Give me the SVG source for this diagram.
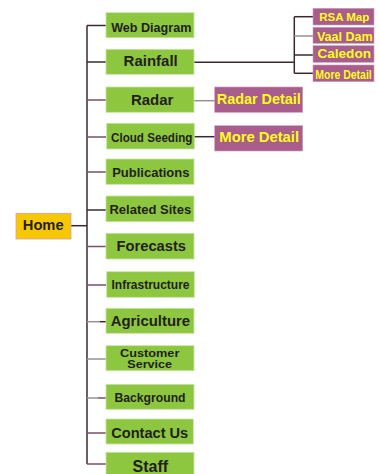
<svg xmlns="http://www.w3.org/2000/svg" width="379" height="474" viewBox="0 0 379 474">
<style>
.g{fill:#8dc63f;stroke:#c9e3a6;stroke-width:0.8}
.p{fill:#a85d8d;stroke:#c9a0bd;stroke-width:0.6}
.h{fill:#f7c800;stroke:#d9a0b0;stroke-width:0.8}
.t{font-family:"Liberation Sans",Arial,sans-serif;font-weight:bold;fill:#231f20;text-anchor:middle}
.y{font-family:"Liberation Sans",Arial,sans-serif;font-weight:bold;fill:#ffff1a;text-anchor:middle}
.c{fill:none;stroke:#3a2830;stroke-width:1.5}
.cp{fill:none;stroke:#7a4d68;stroke-width:1.5}
.cg{fill:none;stroke:#9a9090;stroke-width:1.5}
</style>
<rect width="379" height="474" fill="#ffffff"/>
<g id="connectors">
<path class="c" d="M87 25.5V464"/>
<path class="c" d="M71 225.7H87"/>
<path class="c" d="M87 25.5H106"/>
<path class="c" d="M87 62H106"/>
<path class="cp" d="M87 100H106"/>
<path class="cp" d="M87 137H106"/>
<path class="cp" d="M87 172H106"/>
<path class="c" d="M87 210H106"/>
<path class="cp" d="M87 246.5H106"/>
<path class="cp" d="M87 285H106"/>
<path class="cg" d="M87 321.7H100"/>
<path class="c" d="M100 321.7H106"/>
<path class="cg" d="M87 359H106"/>
<path class="cg" d="M87 398H98"/>
<path class="cp" d="M98 398H106"/>
<path class="cp" d="M87 433H106"/>
<path class="cp" d="M87 464H106"/>
<path class="c" d="M194 62.3H294.3"/>
<path class="c" d="M294.3 16.7V73.3"/>
<path class="c" d="M294.3 16.7H313"/>
<path class="cg" d="M294.3 36H313"/>
<path class="c" d="M294.3 55H313"/>
<path class="c" d="M294.3 73.3H313"/>
<path class="cg" d="M194 100.7H215"/>
<path class="c" d="M194 136.7H215"/>
</g>
<g id="home"><rect class="h" x="16" y="213.3" width="55" height="25.7"/><text class="t" x="43.2" y="230" font-size="14.7">Home</text></g>
<g id="web-diagram"><rect class="g" x="106" y="12.7" width="88" height="25"/><text class="t" x="151.3" y="31.7" font-size="12.6">Web Diagram</text></g>
<g id="rainfall"><rect class="g" x="106" y="49.3" width="88" height="25"/><text class="t" x="150.7" y="65.7" font-size="15">Rainfall</text></g>
<g id="radar"><rect class="g" x="106" y="87" width="88" height="25.3"/><text class="t" x="152.2" y="105" font-size="15">Radar</text></g>
<g id="cloud-seeding"><rect class="g" x="106.7" y="123.3" width="87.6" height="25.7"/><text class="t" x="151.7" y="142.3" font-size="13" textLength="81.3" lengthAdjust="spacingAndGlyphs" style="font-weight:600">Cloud Seeding</text></g>
<g id="publications"><rect class="g" x="106" y="159" width="88" height="25.3"/><text class="t" x="150.8" y="176.7" font-size="13">Publications</text></g>
<g id="related-sites"><rect class="g" x="106" y="196" width="88" height="25.7"/><text class="t" x="150.3" y="214.3" font-size="13">Related Sites</text></g>
<g id="forecasts"><rect class="g" x="106" y="233.3" width="88" height="25.7"/><text class="t" x="151.3" y="250.7" font-size="14.7">Forecasts</text></g>
<g id="infrastructure"><rect class="g" x="106.7" y="271.7" width="87.6" height="25.6"/><text class="t" x="150.5" y="289.3" font-size="12">Infrastructure</text></g>
<g id="agriculture"><rect class="g" x="106" y="308.3" width="88" height="25"/><text class="t" x="150.4" y="326" font-size="14.9">Agriculture</text></g>
<g id="customer-service"><rect class="g" x="106" y="345.7" width="88" height="25"/><text class="t" x="149.7" y="356.7" font-size="10.5" textLength="59.3" lengthAdjust="spacingAndGlyphs">Customer</text><text class="t" x="149.7" y="367.7" font-size="10.5" textLength="44.7" lengthAdjust="spacingAndGlyphs">Service</text></g>
<g id="background"><rect class="g" x="106" y="384.3" width="88" height="25"/><text class="t" x="150" y="402.3" font-size="12.2">Background</text></g>
<g id="contact-us"><rect class="g" x="106" y="419" width="87.3" height="25"/><text class="t" x="149.7" y="437.7" font-size="14.6">Contact Us</text></g>
<g id="staff"><rect class="g" x="106" y="452.3" width="88" height="24"/><text class="t" x="150.3" y="471.7" font-size="16">Staff</text></g>
<g id="rsa-map"><rect class="p" x="313" y="8.3" width="61" height="16.7"/><text class="y" x="344.2" y="20.7" font-size="11.5">RSA Map</text></g>
<g id="vaal-dam"><rect class="p" x="313" y="27.3" width="61" height="16"/><text class="y" x="344.8" y="40.7" font-size="13" textLength="55.7" lengthAdjust="spacingAndGlyphs">Vaal Dam</text></g>
<g id="caledon"><rect class="p" x="313" y="45.7" width="61" height="16.6"/><text class="y" x="344.2" y="58.3" font-size="13.6">Caledon</text></g>
<g id="more-detail-rainfall"><rect class="p" x="313" y="65" width="61" height="16.7"/><text class="y" transform="translate(343.5 78.8) scale(0.84 1)" font-size="12.5">More Detail</text></g>
<g id="radar-detail"><rect class="p" x="214.7" y="87" width="88" height="25.3"/><text class="y" x="258.8" y="104" font-size="14.4">Radar Detail</text></g>
<g id="more-detail-cloud"><rect class="p" x="214.7" y="125.7" width="88" height="25.3"/><text class="y" x="259.2" y="141.7" font-size="14.8">More Detail</text></g>
</svg>
